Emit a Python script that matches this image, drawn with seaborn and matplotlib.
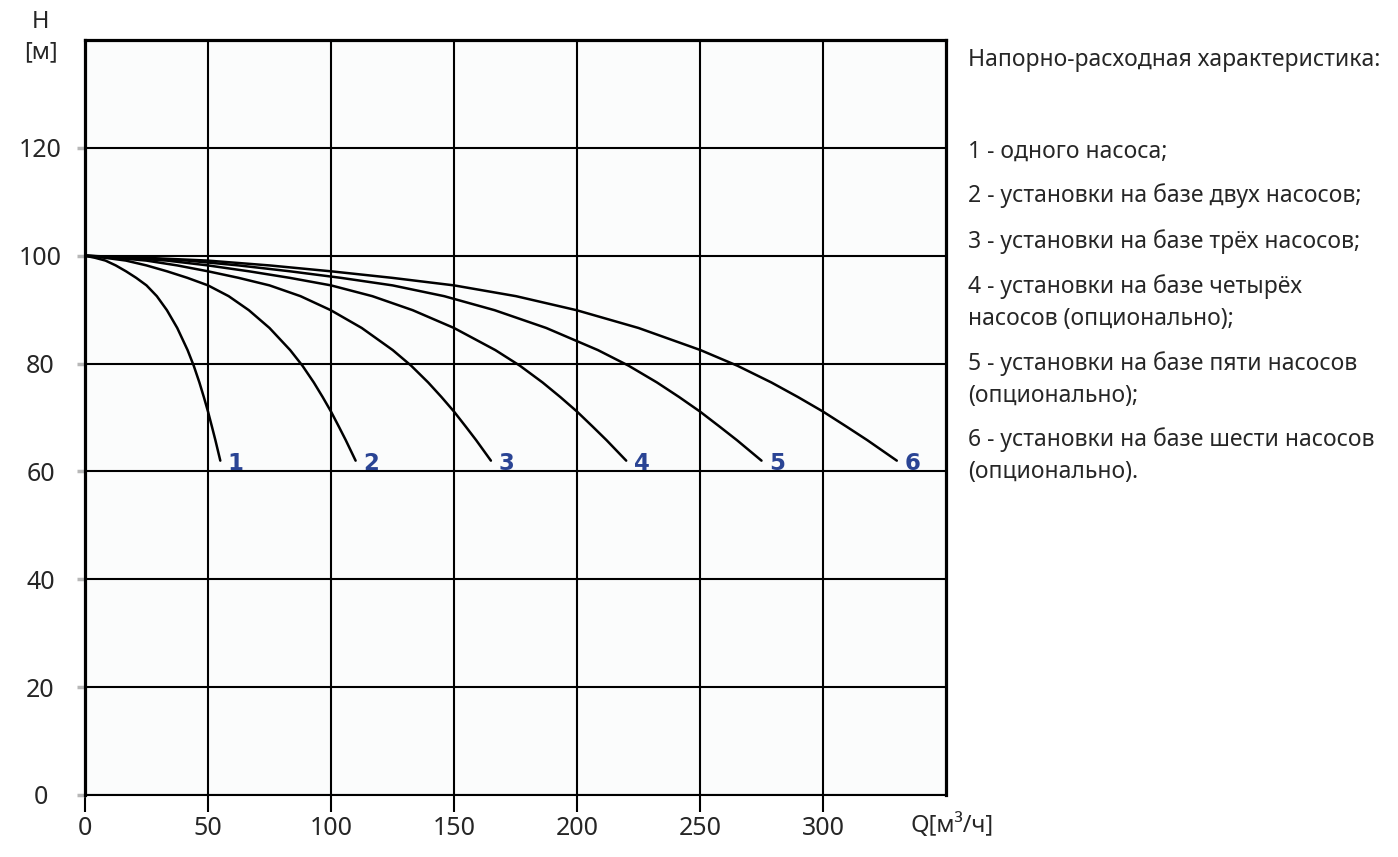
import pandas as pd
import numpy as np
import matplotlib.pyplot as plt
import seaborn as sns

# Напор, м (общий для всех кривых)
head = [100, 99.6, 99.1, 98.2, 97.1, 95.9, 94.5, 92.5, 89.9, 86.6,
        82.5, 79.6, 76.5, 73.8, 71.1, 68.3, 65.8, 63.9, 62]

# Подача, м3/ч, для каждой кривой
flow_1 = [0, 4.2, 8.3, 12.5, 16.7, 20.8, 25, 29.2, 33.3, 37.5,
          41.7, 44.2, 46.5, 48.3, 50, 51.6, 53, 54, 55]
flow_2 = [0, 8.4, 16.6, 25, 33.4, 41.6, 50, 58.4, 66.6, 75,
          83.4, 88.4, 93, 96.6, 100, 103.2, 106, 108, 110]
flow_3 = [0, 12.6, 24.9, 37.5, 50.1, 62.4, 75, 87.6, 99.9, 112.5,
          125.1, 132.6, 139.5, 144.9, 150, 154.8, 159, 162, 165]
flow_4 = [0, 16.8, 33.2, 50, 66.8, 83.2, 100, 116.8, 133.2, 150,
          166.8, 176.8, 186, 193.2, 200, 206.4, 212, 216, 220]
flow_5 = [0, 21, 41.5, 62.5, 83.5, 104, 125, 146, 166.5, 187.5,
          208.5, 221, 232.5, 241.5, 250, 258, 265, 270, 275]
flow_6 = [0, 25.2, 49.8, 75, 100.2, 124.8, 150, 175.2, 199.8, 225,
          250.2, 265.2, 279, 289.8, 300, 309.6, 318, 324, 330]

curve_labels = ["1", "2", "3", "4", "5", "6"]
x_ticks = [0, 50, 100, 150, 200, 250, 300]
y_ticks = [0, 20, 40, 60, 80, 100, 120]

legend_title = "Напорно-расходная характеристика:"
legend_lines = [
    "1 - одного насоса;",
    "2 - установки на базе двух насосов;",
    "3 - установки на базе трёх насосов;",
    "4 - установки на базе четырёх\nнасосов (опционально);",
    "5 - установки на базе пяти насосов\n(опционально);",
    "6 - установки на базе шести насосов\n(опционально).",
]

sns.set_theme(style="white")
plt.rcParams['font.family'] = ['Noto Sans', 'DejaVu Sans']

fig = plt.figure(figsize=(13.98, 8.57), dpi=100)
ax = fig.add_axes([85 / 1398, 1 - 795 / 857, (946 - 85) / 1398, (795 - 40) / 857])
ax.set_facecolor("#fbfcfc")

flows = [flow_1, flow_2, flow_3, flow_4, flow_5, flow_6]
for flow, lab in zip(flows, curve_labels):
    df = pd.DataFrame({"Q": flow, "H": head})
    sns.lineplot(data=df, x="Q", y="H", color="black", linewidth=1.8,
                 sort=False, estimator=None, ax=ax)
    ax.text(flow[-1] + 3, head[-1] - 0.5, lab, color="#2a4494", fontsize=16.5,
            family=['DejaVu Sans'], fontweight="heavy", ha="left", va="center")

ax.set_xlim(0, 350)
ax.set_ylim(0, 140)
ax.set_xticks(x_ticks)
ax.set_yticks(y_ticks)
ax.set_xticklabels([str(v) for v in x_ticks], fontsize=18)
ax.set_yticklabels([str(v) for v in y_ticks], fontsize=18, ha="center")
ax.set_xlabel("")
ax.set_ylabel("")
ax.grid(True, color="black", linewidth=1.5)
ax.tick_params(axis="x", direction="out", length=12, width=1.5, color="black",
               pad=3, bottom=True)
ax.tick_params(axis="y", direction="out", length=6, width=2.5, color="#b8b8b8",
               pad=26, left=True)

for side in ["left", "top", "right"]:
    ax.spines[side].set_linewidth(2.3)
    ax.spines[side].set_color("black")
ax.spines["bottom"].set_linewidth(1.5)
ax.spines["bottom"].set_color("black")

fig.text(41 / 1398, 1 - 22 / 857, "H", fontsize=17, ha="center", va="center")
fig.text(41 / 1398, 1 - 52 / 857, "[м]", fontsize=17, ha="center", va="center")
fig.text(952 / 1398, 1 - 826 / 857, "Q[м³/ч]", fontsize=17, ha="center", va="center")

fig.text(968 / 1398, 1 - 60 / 857, legend_title, fontsize=16.5, ha="left", va="center")
y_pos = [152, 196, 242, 303, 380, 456]
for y, line in zip(y_pos, legend_lines):
    fig.text(968 / 1398, 1 - y / 857, line, fontsize=16.5, ha="left", va="center",
             linespacing=1.45)

fig.savefig("out.png", dpi=100)
